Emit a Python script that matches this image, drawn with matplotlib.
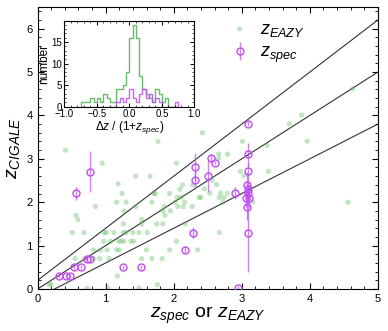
import numpy as np
import matplotlib
matplotlib.use("Agg")
import matplotlib.pyplot as plt
from matplotlib.ticker import MultipleLocator

plt.rcParams['font.family'] = ['Liberation Sans', 'DejaVu Sans']
plt.rcParams['mathtext.fontset'] = 'custom'
plt.rcParams['mathtext.rm'] = 'Liberation Sans'
plt.rcParams['mathtext.it'] = 'Liberation Sans:italic'

# ---- data: photometric (EAZY) redshifts vs CIGALE ----
eazy_x = [0.01, 0.17, 0.20, 0.41, 0.51, 0.55, 0.56, 0.59, 0.68, 0.69, 0.73, 0.82, 0.82,
          0.85, 0.92, 0.91, 0.95, 0.98, 1.01, 0.97, 1.07, 1.12, 1.03, 1.02, 1.05, 1.16, 1.20,
          1.16, 1.18, 1.24, 1.30, 1.27, 1.19, 1.23, 1.27, 1.17, 1.26, 1.30, 1.26, 1.37,
          1.41, 1.40, 1.61, 1.49, 1.44, 1.44, 1.49, 1.53, 1.53, 1.53, 1.60, 1.65, 1.68,
          1.68, 1.71, 1.73, 1.75, 1.76, 1.77, 1.84, 1.84, 1.83, 1.87, 1.86, 1.94, 1.94,
          1.95, 2.02, 2.04, 2.04, 2.06, 2.05, 2.09, 2.11, 2.13, 2.14, 2.16, 2.17, 2.27,
          2.28, 2.35, 2.37, 2.40, 2.42, 2.45, 2.53, 2.56, 2.63, 2.66, 2.66, 2.67, 2.67,
          2.69, 2.72, 2.74, 2.79, 2.79, 2.98, 3.01, 3.03, 3.16, 3.37, 3.39, 3.70, 3.88,
          3.96, 4.56, 4.63]
eazy_y = [1.10, 0.10, 0.10, 3.20, 1.30, 0.70, 1.70, 1.60, 1.30, 0.70, 0.02, 0.90, 0.70,
          1.90, 0.90, 0.70, 2.90, 1.30, 1.30, 1.10, 1.10, 1.30, 0.02, 0.90, 0.70, 0.90, 0.90,
          2.00, 2.42, 2.20, 2.00, 1.80, 1.10, 1.10, 1.10, 0.30, 1.30, 1.30, 1.50, 1.10,
          1.10, 1.30, 1.30, 1.30, 2.60, 1.90, 0.02, 1.60, 1.50, 0.70, 0.90, 2.60, 2.00,
          0.70, 2.20, 2.20, 1.50, 0.10, 3.40, 1.80, 1.50, 0.70, 1.70, 1.90, 2.20, 0.90,
          1.80, 2.00, 2.90, 1.10, 1.90, 2.11, 2.30, 2.11, 2.40, 1.90, 2.00, 1.50, 1.90,
          2.40, 0.90, 2.11, 2.11, 3.60, 2.31, 2.21, 2.51, 2.41, 3.11, 3.01, 1.30, 2.11,
          2.21, 2.00, 2.11, 3.11, 2.21, 2.71, 3.40, 2.61, 2.01, 3.31, 2.71, 3.81, 4.01,
          3.41, 2.00, 4.61]

# ---- data: spectroscopic redshifts vs CIGALE ----
spec_x = [0.31, 0.42, 0.47, 0.54, 0.64, 0.57, 0.77, 0.73, 0.77, 1.25, 1.52, 2.17, 2.28,
          2.31, 2.31, 2.51, 2.55, 2.61, 2.90, 2.95, 3.09, 3.09, 3.09, 3.08, 3.09, 3.09,
          3.06, 3.10, 3.08, 3.09]
spec_y = [0.30, 0.30, 0.30, 0.50, 0.50, 2.21, 2.70, 0.70, 0.70, 0.50, 0.50, 0.90, 1.30,
          2.81, 2.51, 2.60, 3.01, 2.91, 2.21, 0.02, 3.81, 3.10, 2.71, 2.40, 2.30, 2.21,
          2.10, 2.10, 1.90, 1.30]
spec_err = [0.05, 0.05, 0.05, 0.05, 0.05, 0.15, 0.47, 0.05, 0.05, 0.05, 0.05, 0.08, 0.12,
            0.33, 0.20, 0.37, 0.10, 0.05, 0.13, 0.05, 0.05, 0.26, 0.20, 0.30, 0.20, 0.20,
            0.20, 0.20, 0.30, 0.90]

# ---- data: inset histograms of dz/(1+z_spec) ----
hist_edges = [-0.75, -0.70, -0.65, -0.60, -0.55, -0.50, -0.45, -0.40, -0.35, -0.30, -0.25,
              -0.20, -0.15, -0.10, -0.05, 0.00, 0.05, 0.10, 0.15, 0.20, 0.25, 0.30, 0.35,
              0.40, 0.45, 0.50, 0.55, 0.60, 0.65, 0.70, 0.75]
eazy_counts = [1, 1, 1, 2, 1, 2, 1, 3, 2, 1, 1, 4, 4, 5, 8, 16, 19, 16, 7, 4, 3, 2, 1,
               4, 3, 1, 2, 0, 0, 0]
spec_counts = [0, 0, 0, 0, 0, 0, 0, 0, 0, 0, 0, 1, 2, 1, 2, 4, 2, 1, 3, 4, 2, 3, 1,
               2, 1, 0, 0, 0, 0, 1]

relation_slopes = [1.2, 1.0, 0.8]
relation_offsets = [0.2, 0.0, -0.2]

green = '#5cb85c'
purple = '#c04cf4'

fig = plt.figure(figsize=(3.88, 3.31), dpi=100)
ax = fig.add_axes([0.097, 0.127, 0.877, 0.852])

xx = np.array([0, 5.0])
for s, o in zip(relation_slopes, relation_offsets):
    ax.plot(xx, s * xx + o, color='#333333', lw=0.8, zorder=1)

sc = ax.scatter(eazy_x, eazy_y, s=14, color=green, alpha=0.38, edgecolors='none', zorder=2,
                label=r'$z_{EAZY}$')
eb = ax.errorbar(spec_x, spec_y, yerr=spec_err, fmt='o', ms=5.0, mfc='none', mec=purple,
                 mew=1.0, ecolor=purple, elinewidth=1.0, capsize=0, zorder=3,
                 label=r'$z_{spec}$')
for line in eb[2]:
    line.set_alpha(0.7)

ax.set_xlim(0, 5)
ax.set_ylim(0, 6.5)
ax.xaxis.set_major_locator(MultipleLocator(1))
ax.xaxis.set_minor_locator(MultipleLocator(0.2))
ax.yaxis.set_major_locator(MultipleLocator(1))
ax.yaxis.set_minor_locator(MultipleLocator(0.2))
ax.tick_params(which='both', direction='in', top=True, right=True, labelsize=8)
ax.tick_params(which='major', length=4, width=0.8)
ax.tick_params(which='minor', length=2, width=0.6)
ax.set_xlabel(r'$z_{spec}$ or $z_{EAZY}$', fontsize=14, labelpad=1)
ax.set_ylabel(r'$z_{CIGALE}$', fontsize=14, labelpad=3)

ax.legend(loc='upper left', bbox_to_anchor=(0.53, 0.99), frameon=False, fontsize=13,
          handlelength=1.2, handletextpad=0.5, labelspacing=0.3, borderaxespad=0.2)

# inset
ins = fig.add_axes([0.166, 0.678, 0.335, 0.259])
ins.stairs(eazy_counts, hist_edges, baseline=0, color='#4cb050', lw=1.0, alpha=0.85)
ins.stairs(spec_counts, hist_edges, baseline=0, color=purple, lw=1.0, alpha=0.85)
ins.set_xlim(-1, 1)
ins.set_ylim(0, 19.9)
ins.xaxis.set_major_locator(MultipleLocator(0.5))
ins.xaxis.set_minor_locator(MultipleLocator(0.1))
ins.yaxis.set_major_locator(MultipleLocator(5))
ins.yaxis.set_minor_locator(MultipleLocator(1))
ins.tick_params(which='both', direction='in', top=True, right=True, labelsize=7, pad=1.5)
ins.tick_params(which='major', length=3, width=0.7)
ins.tick_params(which='minor', length=1.5, width=0.5)
ins.set_xlabel(r'$\Delta z$ / (1+$z_{spec}$)', fontsize=8.5, labelpad=0)
ins.set_ylabel('number', fontsize=8.5, labelpad=1)

fig.savefig('out.png', dpi=100)
